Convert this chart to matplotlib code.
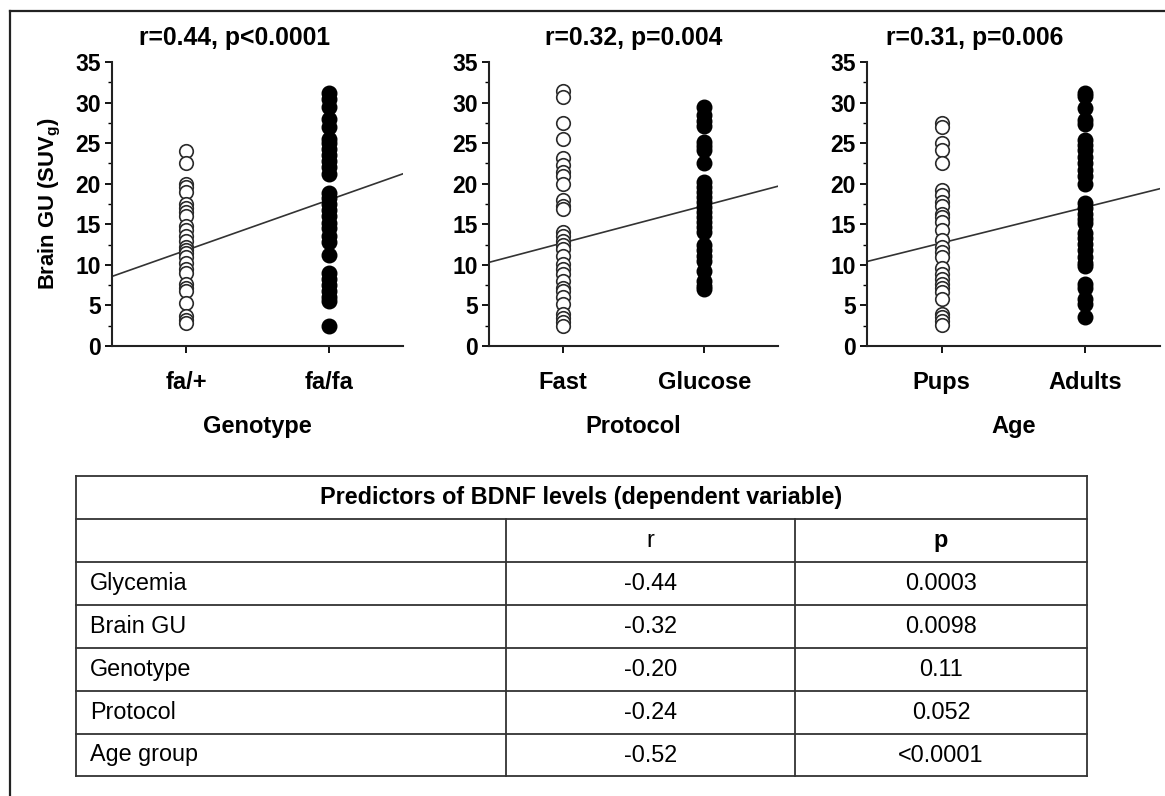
import numpy as np
import matplotlib
matplotlib.use('Agg')
import matplotlib.pyplot as plt
from matplotlib.ticker import MultipleLocator

plt.rcParams['font.family'] = ['Liberation Sans', 'DejaVu Sans']
plt.rcParams['mathtext.fontset'] = 'custom'
plt.rcParams['mathtext.rm'] = 'Liberation Sans'
plt.rcParams['mathtext.bf'] = 'Liberation Sans:bold'

# brain GU values (open = first group, filled = second group)
genotype_fa_plus = [24.0, 22.6, 20.0, 19.6, 19.0, 17.5, 17.0, 16.5, 16.0, 14.8, 14.3, 13.5,
                    13.0, 12.2, 11.8, 11.4, 11.0, 10.2, 9.5, 9.0, 7.7, 7.2, 6.8, 5.3, 3.7, 3.2, 2.8]
genotype_fa_fa = [31.2, 30.5, 29.5, 28.0, 27.0, 25.5, 25.0, 24.3, 23.5, 22.8, 22.0, 21.2, 18.8,
                  18.2, 17.5, 16.8, 16.0, 15.2, 14.5, 13.5, 12.8, 11.2, 9.0, 8.3, 7.5, 6.8, 6.0, 5.6, 2.5]
protocol_fast = [31.4, 30.7, 27.5, 25.5, 23.2, 22.3, 21.5, 21.0, 20.0, 18.0, 17.3, 16.9, 14.0,
                 13.6, 13.0, 12.4, 12.0, 11.1, 10.1, 9.5, 8.9, 8.0, 7.2, 6.8, 6.0, 5.2, 3.9, 3.5, 2.9, 2.5]
protocol_glucose = [29.4, 28.5, 27.7, 27.1, 25.2, 24.6, 24.1, 22.5, 20.2, 19.6, 19.0, 18.4, 17.7,
                    17.1, 16.5, 15.9, 15.3, 14.7, 14.0, 12.4, 11.8, 11.1, 10.5, 9.3, 8.0, 7.4, 7.0]
age_pups = [27.5, 27.0, 25.0, 24.2, 22.5, 19.2, 18.6, 17.8, 17.2, 16.3, 15.9, 15.3, 14.3, 13.1,
            12.2, 11.6, 11.0, 9.6, 8.9, 8.3, 7.7, 7.1, 6.7, 5.8, 4.0, 3.6, 3.1, 2.6]
age_adults = [31.2, 30.8, 29.3, 27.9, 27.3, 25.4, 24.8, 24.2, 23.3, 22.5, 21.7, 20.9, 20.0, 17.6,
              17.0, 16.3, 15.7, 15.1, 13.9, 13.3, 12.6, 11.8, 11.0, 10.2, 9.8, 7.7, 7.1, 5.8, 5.2, 3.6]

groups = [(genotype_fa_plus, genotype_fa_fa),
          (protocol_fast, protocol_glucose),
          (age_pups, age_adults)]
cat_labels = [['fa/+', 'fa/fa'], ['Fast', 'Glucose'], ['Pups', 'Adults']]
x_labels = ['Genotype', 'Protocol', 'Age']
titles = ['r=0.44, p<0.0001', 'r=0.32, p=0.004', 'r=0.31, p=0.006']
# regression lines (value at first group, slope per group step)
fit_intercept = [11.8, 12.7, 12.7]
fit_slope = [6.2, 4.6, 4.4]

# table
table_title = 'Predictors of BDNF levels (dependent variable)'
predictors = ['Glycemia', 'Brain GU', 'Genotype', 'Protocol', 'Age group']
r_values = ['-0.44', '-0.32', '-0.20', '-0.24', '-0.52']
p_values = ['0.0003', '0.0098', '0.11', '0.052', '<0.0001']

W, H = 1165, 796
fig = plt.figure(figsize=(W / 100, H / 100), dpi=100)

# panel positions in pixels (left, right)
panel_px = [(112, 403), (489, 778), (867, 1160)]
title_x = [235, 634, 975]
ax_top, ax_bot = 62, 346

for i, (lo, hi) in enumerate(panel_px):
    ax = fig.add_axes([lo / W, 1 - ax_bot / H, (hi - lo) / W, (ax_bot - ax_top) / H])
    g0, g1 = groups[i]
    ax.scatter(np.zeros(len(g0)), g0, s=95, facecolors='white', edgecolors='#2a2a2a',
               linewidths=1.2, zorder=3)
    ax.scatter(np.ones(len(g1)), g1, s=110, facecolors='black', edgecolors='black',
               linewidths=1.0, zorder=3)
    xl = (-0.52, 1.52)
    xs = np.array(xl)
    ax.plot(xs, fit_intercept[i] + fit_slope[i] * xs, color='#333333', lw=1.2, zorder=2)
    ax.set_xlim(xl)
    ax.set_ylim(0, 35)
    ax.spines['top'].set_visible(False)
    ax.spines['right'].set_visible(False)
    for sp in ['left', 'bottom']:
        ax.spines[sp].set_linewidth(1.5)
        ax.spines[sp].set_color('#222222')
    ax.yaxis.set_major_locator(MultipleLocator(5))
    ax.yaxis.set_minor_locator(MultipleLocator(2.5))
    ax.tick_params(axis='y', which='major', length=5, width=1.3, pad=3, labelsize=16.5)
    ax.tick_params(axis='y', which='minor', length=3, width=1.0)
    ax.set_xticks([0, 1])
    ax.set_xticklabels(cat_labels[i], fontsize=17, fontweight='bold')
    ax.tick_params(axis='x', length=5, width=1.3, pad=13)
    for lab in ax.get_yticklabels():
        lab.set_fontweight('bold')
    ax.set_xlabel(x_labels[i], fontsize=17, fontweight='bold', labelpad=15)
    fig.text(title_x[i] / W, 1 - 38 / H, titles[i], ha='center', va='center',
             fontsize=17.8, fontweight='bold')
    if i == 0:
        ax.set_ylabel(r'Brain GU (SUV$_\mathbf{g}$)', fontsize=15.8, fontweight='bold')
        ax.yaxis.set_label_coords(-0.17, 0.5)

# overlay in pixel coordinates for frame and table
ov = fig.add_axes([0, 0, 1, 1])
ov.set_xlim(0, W)
ov.set_ylim(H, 0)
ov.axis('off')
ov.plot([10, 10], [11, H], color='#222222', lw=1.6)
ov.plot([10, W], [11, 11], color='#222222', lw=1.6)

t_left, c1, c2, t_right = 76, 506, 795, 1087
rows = [476, 519, 562, 605, 648, 691, 734, 776]
lc = '#333333'
for y in rows:
    ov.plot([t_left, t_right], [y, y], color=lc, lw=1.3)
ov.plot([t_left, t_left], [rows[0], rows[-1]], color=lc, lw=1.3)
ov.plot([t_right, t_right], [rows[0], rows[-1]], color=lc, lw=1.3)
for cx in (c1, c2):
    ov.plot([cx, cx], [rows[1], rows[-1]], color=lc, lw=1.3)

fs = 16.8
ov.text((t_left + t_right) / 2, (rows[0] + rows[1]) / 2, table_title, ha='center', va='center',
        fontsize=fs, fontweight='bold')
ov.text((c1 + c2) / 2, (rows[1] + rows[2]) / 2, 'r', ha='center', va='center', fontsize=fs)
ov.text((c2 + t_right) / 2, (rows[1] + rows[2]) / 2, 'p', ha='center', va='center',
        fontsize=fs, fontweight='bold')
for k in range(len(predictors)):
    yc = (rows[k + 2] + rows[k + 3]) / 2
    ov.text(t_left + 14, yc, predictors[k], ha='left', va='center', fontsize=fs)
    ov.text((c1 + c2) / 2, yc, r_values[k], ha='center', va='center', fontsize=fs)
    ov.text((c2 + t_right) / 2, yc, p_values[k], ha='center', va='center', fontsize=fs)

fig.savefig('out.png', dpi=100)
